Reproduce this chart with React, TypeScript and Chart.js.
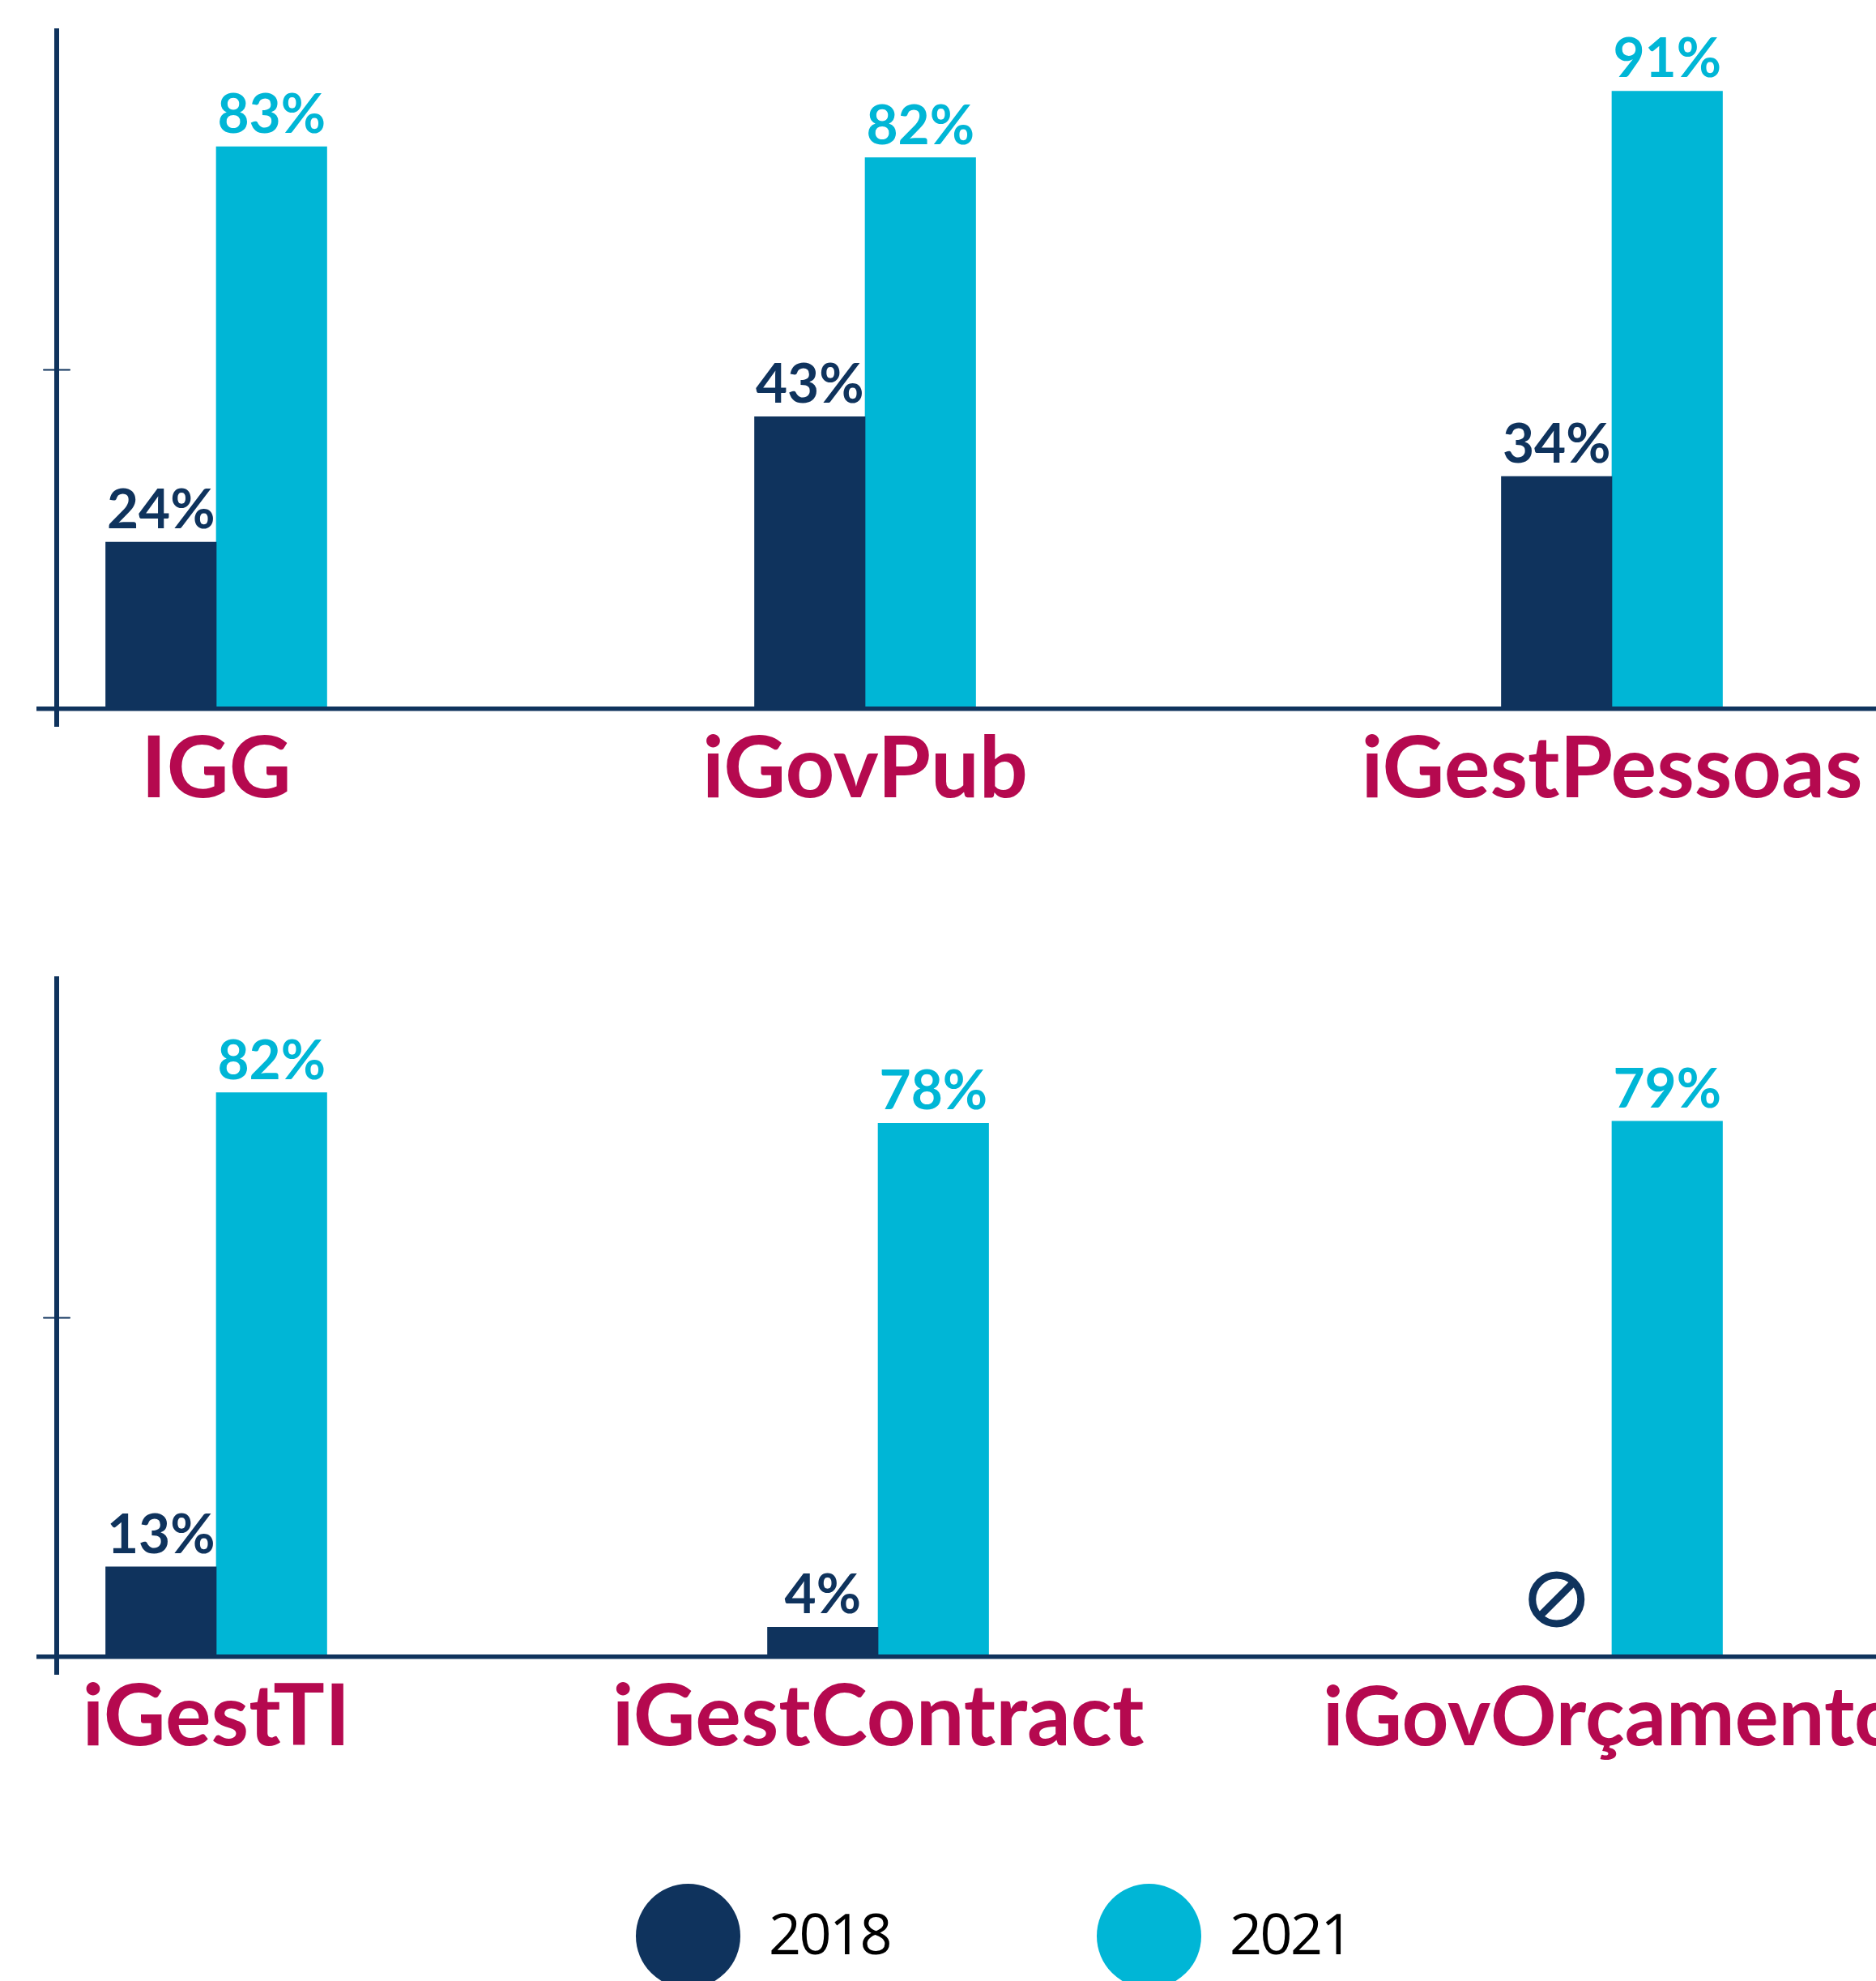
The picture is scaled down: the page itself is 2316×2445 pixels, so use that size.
import React, { useEffect, useRef } from "react";
import { Chart, registerables } from "chart.js";

Chart.register(...registerables);

// ---- Data ----
const categoriesTop = ["IGG", "iGovPub", "iGestPessoas"];
const categoriesBottom = ["iGestTI", "iGestContract", "iGovOrçamento"];
const seriesNames = ["2018", "2021"];
const top2018 = [24.6, 43.1, 34.3];
const top2021 = [82.9, 81.3, 91.1];
const bottom2018 = [13.3, 4.4, null];
const bottom2021 = [83.2, 78.7, 79.0];
const topLabels2018 = ["24%", "43%", "34%"];
const topLabels2021 = ["83%", "82%", "91%"];
const bottomLabels2018 = ["13%", "4%", null];
const bottomLabels2021 = ["82%", "78%", "79%"];
const groupPositionsTop = [0, 1, 2.151];
const groupPositionsBottom = [0, 1.02, 2.151];

// ---- Style ----
const NAVY = "#0F335D";
const CYAN = "#00B6D6";
const MAGENTA = "#B5094F";
const BAR_W = 136.5;
const CANVAS_W = 2316;
const CANVAS_H = 1100;
const BOTTOM_PANEL_TOP = 1170;
const X_MIN = -0.2734;
const X_MAX = 2.558;
const Y_AXIS_AT = -0.2459;
const LABEL_SIZES_TOP = [106, 106, 106];
const LABEL_SIZES_BOTTOM = [106, 106, 101];

const annotate = {
  id: "annotate",
  afterDatasetsDraw(chart: any, _args: any, opts: any) {
    const { ctx, scales } = chart;
    // crossing tick on the value axis
    const axisX = scales.x.getPixelForValue(Y_AXIS_AT);
    const tickY = scales.y.getPixelForValue(50);
    ctx.save();
    ctx.strokeStyle = NAVY;
    ctx.lineWidth = 2;
    ctx.lineCap = "round";
    ctx.beginPath();
    ctx.moveTo(axisX - 16, tickY);
    ctx.lineTo(axisX + 16, tickY);
    ctx.stroke();

    ctx.font = "700 67.5px Lato";
    ctx.textAlign = "center";
    ctx.textBaseline = "alphabetic";
    chart.data.datasets.forEach((ds: any, di: number) => {
      const meta = chart.getDatasetMeta(di);
      meta.data.forEach((bar: any, i: number) => {
        const label = opts.labels[di][i];
        if (label) {
          ctx.fillStyle = ds.backgroundColor;
          ctx.fillText(label, bar.x, bar.y - 17);
        } else {
          // "no data" symbol where the missing bar would stand
          const cy = scales.y.getPixelForValue(8.5);
          const r = 30;
          ctx.strokeStyle = ds.backgroundColor;
          ctx.lineWidth = 9;
          ctx.lineCap = "butt";
          ctx.beginPath();
          ctx.arc(bar.x, cy, r, 0, Math.PI * 2);
          ctx.stroke();
          ctx.beginPath();
          const d = r * Math.SQRT1_2;
          ctx.moveTo(bar.x - d, cy + d);
          ctx.lineTo(bar.x + d, cy - d);
          ctx.stroke();
        }
      });
    });
    ctx.restore();
  },
};

function makeConfig(
  categories: string[],
  positions: number[],
  v18: any[],
  v21: any[],
  l18: any[],
  l21: any[],
  labelSizes: number[]
): any {
  const toPoints = (vals: any[]) => vals.map((y, i) => ({ x: positions[i], y }));
  return {
    type: "bar",
    data: {
      datasets: [
        { label: seriesNames[0], data: toPoints(v18), backgroundColor: NAVY },
        { label: seriesNames[1], data: toPoints(v21), backgroundColor: CYAN },
      ],
    },
    plugins: [annotate],
    options: {
      animation: false,
      responsive: false,
      devicePixelRatio: 1,
      layout: { padding: { left: 48, top: 38, right: 0, bottom: 204 } },
      datasets: { bar: { barThickness: BAR_W, borderWidth: 0 } },
      plugins: {
        legend: { display: false },
        tooltip: { enabled: false },
        annotate: { labels: [l18, l21] },
      },
      scales: {
        x: {
          type: "linear",
          offset: false,
          min: X_MIN,
          max: X_MAX,
          position: { y: 0 },
          grid: { display: false, drawTicks: false, offset: false },
          border: { display: true, color: NAVY, width: 5.5, z: 2 },
          afterBuildTicks(scale: any) {
            scale.ticks = positions.map((value) => ({ value }));
          },
          afterFit(scale: any) {
            scale.paddingLeft = 0;
            scale.paddingRight = 0;
          },
          ticks: {
            autoSkip: false,
            maxRotation: 0,
            minRotation: 0,
            padding: 11,
            color: MAGENTA,
            font: (c: any) => {
              const size = labelSizes[c.index] ?? 106;
              return {
                family: "Lato",
                weight: "700",
                size,
                lineHeight: size === 106 ? 1.2 : 1.29,
              };
            },
            callback: (_v: any, i: number) => categories[i],
          },
        },
        y: {
          type: "linear",
          min: -2.5,
          max: 100,
          position: { x: Y_AXIS_AT },
          grid: { display: false, drawTicks: false },
          border: { display: true, color: NAVY, width: 6, z: 1 },
          ticks: { display: false },
          afterBuildTicks(scale: any) {
            scale.ticks = [{ value: 50 }];
          },
          afterFit(scale: any) {
            scale.paddingTop = 0;
            scale.paddingBottom = 0;
          },
        },
      },
    },
  };
}

function Legend() {
  const items = [
    { name: seriesNames[0], color: NAVY, cx: 849.5, tx: 949 },
    { name: seriesNames[1], color: CYAN, cx: 1418, tx: 1518 },
  ];
  return (
    <>
      {items.map((it) => (
        <React.Fragment key={it.name}>
          <div
            style={{
              position: "absolute",
              left: it.cx - 64.5,
              top: 2325,
              width: 129,
              height: 129,
              borderRadius: "50%",
              background: it.color,
            }}
          />
          <div
            style={{
              position: "absolute",
              left: it.tx,
              top: 2339,
              fontFamily: "'Open Sans'",
              fontSize: 70,
              lineHeight: "92px",
              letterSpacing: -2.5,
              color: "#000",
            }}
          >
            {it.name}
          </div>
        </React.Fragment>
      ))}
    </>
  );
}

export default function App() {
  const topRef = useRef<HTMLCanvasElement>(null);
  const bottomRef = useRef<HTMLCanvasElement>(null);

  useEffect(() => {
    const a: any = new Chart(
      topRef.current!,
      makeConfig(categoriesTop, groupPositionsTop, top2018, top2021, topLabels2018, topLabels2021, LABEL_SIZES_TOP)
    );
    const b: any = new Chart(
      bottomRef.current!,
      makeConfig(categoriesBottom, groupPositionsBottom, bottom2018, bottom2021, bottomLabels2018, bottomLabels2021, LABEL_SIZES_BOTTOM)
    );
    return () => {
      a.destroy();
      b.destroy();
    };
  }, []);

  return (
    <div style={{ position: "fixed", left: 0, top: 0, width: CANVAS_W, height: 2445, overflow: "hidden", background: "#fff" }}>
      <canvas ref={topRef} width={CANVAS_W} height={CANVAS_H} style={{ position: "absolute", left: 0, top: 0 }} />
      <canvas ref={bottomRef} width={CANVAS_W} height={CANVAS_H} style={{ position: "absolute", left: 0, top: BOTTOM_PANEL_TOP }} />
      <Legend />
    </div>
  );
}
